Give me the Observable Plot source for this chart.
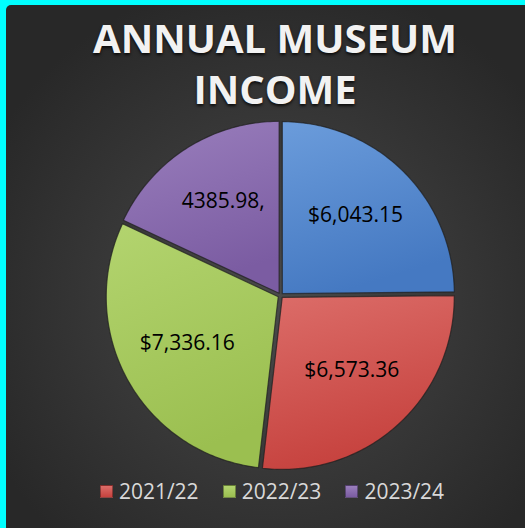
<!DOCTYPE html>
<html><head><meta charset="utf-8">
<script src="https://cdn.jsdelivr.net/npm/d3@7"></script>
<script src="https://cdn.jsdelivr.net/npm/@observablehq/plot@0.6"></script>
<style>
html,body{margin:0;padding:0;background:#00ffff;width:525px;height:528px;overflow:hidden;}
#panel{position:absolute;left:6px;top:5px;width:519px;height:523px;border-top-left-radius:5px;overflow:hidden;
  background:radial-gradient(ellipse 62% 62% at 52% 56%, #4a4a4a 0%, #3a3a3a 45%, #282828 100%);
  font-family:"Open Sans",sans-serif;}
#title{position:absolute;left:0;top:7px;width:538px;text-align:center;color:#f2f2f2;font-weight:bold;
  font-size:40px;line-height:51px;letter-spacing:0px;text-shadow:0 2px 3px rgba(0,0,0,0.75);}
#chart{position:absolute;left:0;top:113px;}
#legend{position:absolute;left:0;top:472px;width:532px;display:flex;justify-content:center;align-items:center;
  color:#d9d9d9;font-size:21px;}
.item{display:flex;align-items:center;margin:0 12px;}
.sw{width:13px;height:13px;margin-right:6px;box-sizing:border-box;border:1px solid rgba(0,0,0,0.35);}
</style></head>
<body>
<div id="panel">
  <div id="title">ANNUAL MUSEUM<br>INCOME</div>
  <div id="chart"></div>
  <div id="legend"></div>
</div>
<script>
// Data
const years = ["2020/21", "2021/22", "2022/23", "2023/24"];
const incomes = [6043.15, 6573.36, 7336.16, 4385.98];
const labels = ["$6,043.15", "$6,573.36", "$7,336.16", "4385.98,"];
const legendYears = ["2021/22", "2022/23", "2023/24"];
// Palette (top colour, bottom colour)
const palette = {
  "2020/21": ["#6b9cdb", "#4579c2"],
  "2021/22": ["#dc6d69", "#c6423e"],
  "2022/23": ["#b3d46f", "#9bbf50"],
  "2023/24": ["#9a7fbd", "#7b5ca2"]
};

const total = d3.sum(incomes);
let acc = 0;
const slices = incomes.map((v, i) => {
  const a0 = acc / total * 2 * Math.PI; acc += v;
  const a1 = acc / total * 2 * Math.PI;
  return {i, year: years[i], label: labels[i], a0, a1, mid: (a0 + a1) / 2};
});
const explode = 0.015;
const pts = slices.flatMap(s => {
  const ox = explode * Math.sin(s.mid), oy = explode * Math.cos(s.mid);
  const arr = [{i: s.i, x: ox, y: oy}];
  const n = Math.max(2, Math.ceil((s.a1 - s.a0) / (Math.PI / 180)));
  for (let k = 0; k <= n; k++) {
    const a = s.a0 + (s.a1 - s.a0) * k / n;
    arr.push({i: s.i, x: ox + Math.sin(a), y: oy + Math.cos(a)});
  }
  return arr;
});
const labelR = 0.62;
const labelData = slices.map(s => ({label: s.label, x: labelR * Math.sin(s.mid), y: labelR * Math.cos(s.mid)}));

const plot = Plot.plot({
  width: 519, height: 370,
  marginLeft: 102, marginRight: 73, marginTop: 5, marginBottom: 21,
  x: {domain: [-1, 1], axis: null},
  y: {domain: [-1, 1], axis: null},
  style: {background: "transparent", overflow: "visible"},
  marks: [
    ...slices.map(s => Plot.line(pts.filter(p => p.i === s.i), {
      x: "x", y: "y", curve: "linear-closed",
      fill: `url(#grad${s.i})`, stroke: "#1e1e1e", strokeWidth: 1.2, strokeOpacity: 0.7
    })),
    Plot.text(labelData, {x: "x", y: "y", dy: -4, text: "label", fontSize: 21, fill: "black", fontFamily: "Open Sans"})
  ]
});

const defs = d3.select(plot).insert("defs", ":first-child");
slices.forEach(s => {
  const [c1, c2] = palette[s.year];
  const g = defs.append("linearGradient").attr("id", `grad${s.i}`).attr("x1", 0).attr("y1", 0).attr("x2", 0.3).attr("y2", 1);
  g.append("stop").attr("offset", "0%").attr("stop-color", c1);
  g.append("stop").attr("offset", "100%").attr("stop-color", c2);
});
document.getElementById("chart").appendChild(plot);

const legend = d3.select("#legend");
legendYears.forEach(y => {
  const it = legend.append("div").attr("class", "item");
  const [c1, c2] = palette[y];
  it.append("div").attr("class", "sw").style("background", `linear-gradient(${c1}, ${c2})`);
  it.append("span").text(y);
});
</script>
</body></html>
